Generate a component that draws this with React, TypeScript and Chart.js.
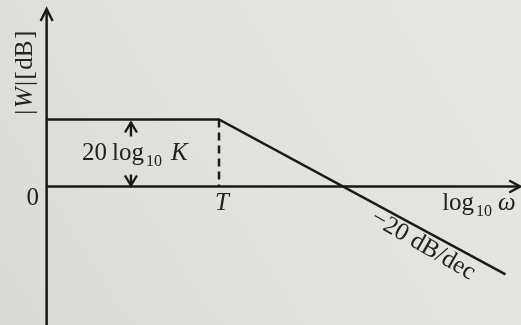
import React, { useEffect, useRef } from "react";
import { Chart, registerables } from "chart.js";

Chart.register(...registerables);

// Values in decades of log10(omega) and in dB
const X_MIN = -0.766;
const X_MAX = 3.435;
const Y_MIN = -41.34;
const Y_MAX = 55.67;

const AXIS_ORIGIN = -0.39; // where the |W| axis stands
const CORNER_T = 1; // log10 T
const GAIN_DB = 20; // 20 log10 K
const ARROW_LOGW = 0.29; // position of the 20 log10 K marker

const asymptoteLogW = [AXIS_ORIGIN, CORNER_T, 3.31];
const asymptoteDb = [GAIN_DB, GAIN_DB, -26.2];
const cornerLogW = [CORNER_T, CORNER_T];
const cornerDb = [GAIN_DB, 0];
const zeroAxisLogW = [AXIS_ORIGIN, 3.42];
const zeroAxisDb = [0, 0];
const yAxisLogW = [AXIS_ORIGIN, AXIS_ORIGIN];
const yAxisDb = [Y_MIN, 52.7];

const SLOPE_LABEL = "\u221220 dB/dec";
const SLOPE_LABEL_AT = [2.645, -17.6];

const INK = "#1a1a1a";
const TEXT = "#222222";
const SERIF = '"Liberation Serif"';

const pts = (xs: number[], ys: number[]) => xs.map((x, i) => ({ x, y: ys[i] }));

function arrowHead(ctx: CanvasRenderingContext2D, tx: number, ty: number, dx: number, dy: number, L: number, W: number) {
  const nx = -dy;
  const ny = dx;
  ctx.beginPath();
  ctx.moveTo(tx - L * dx + W * nx, ty - L * dy + W * ny);
  ctx.lineTo(tx, ty);
  ctx.lineTo(tx - L * dx - W * nx, ty - L * dy - W * ny);
  ctx.stroke();
}

function inkText(ctx: CanvasRenderingContext2D, t: string, x: number, y: number) {
  ctx.fillText(t, x, y);
}

const decorPlugin = {
  id: "decor",
  beforeDraw(chart: any) {
    const { ctx, width, height } = chart;
    ctx.save();
    const g = ctx.createLinearGradient(0, height, width, 0);
    g.addColorStop(0, "#dadad7");
    g.addColorStop(0.45, "#e1e1de");
    g.addColorStop(1, "#e6e6e3");
    ctx.fillStyle = g;
    ctx.fillRect(0, 0, width, height);
    ctx.restore();
  },
  afterDraw(chart: any) {
    const { ctx } = chart;
    const xs = chart.scales.x;
    const ys = chart.scales.y;
    const X = (v: number) => xs.getPixelForValue(v);
    const Y = (v: number) => ys.getPixelForValue(v);
    ctx.save();
    ctx.strokeStyle = INK;
    ctx.lineWidth = 2.4;
    ctx.lineJoin = "miter";
    ctx.lineCap = "butt";

    // axis arrowheads
    arrowHead(ctx, X(yAxisLogW[1]), Y(yAxisDb[1]) - 1, 0, -1, 12, 6);
    arrowHead(ctx, X(zeroAxisLogW[1]) + 1, Y(zeroAxisDb[1]), 1, 0, 11, 6);

    // 20 log10 K double arrow
    const ax = X(ARROW_LOGW);
    const yTop = Y(GAIN_DB);
    const yBot = Y(0);
    ctx.beginPath();
    ctx.moveTo(ax, yTop + 3);
    ctx.lineTo(ax, yTop + 17);
    ctx.moveTo(ax, yBot - 1);
    ctx.lineTo(ax, yBot - 12);
    ctx.stroke();
    arrowHead(ctx, ax, yTop + 3, 0, -1, 10, 6);
    arrowHead(ctx, ax, yBot - 1, 0, 1, 10, 6);

    ctx.fillStyle = TEXT;
    ctx.textBaseline = "alphabetic";
    ctx.textAlign = "left";
    const big = `25px ${SERIF}`;
    const bigIt = `italic 25px ${SERIF}`;
    const sub = `16px ${SERIF}`;

    // 20 log10 K
    const tb = yTop + 40;
    let x0 = ax - 49;
    ctx.font = big;
    inkText(ctx, "20", x0, tb);
    x0 += ctx.measureText("20").width + 5;
    inkText(ctx, "log", x0, tb);
    x0 += ctx.measureText("log").width + 2;
    ctx.font = sub;
    inkText(ctx, "10", x0, tb + 6);
    x0 += ctx.measureText("10").width + 9;
    ctx.font = bigIt;
    inkText(ctx, "K", x0, tb);

    // 0 label
    ctx.font = big;
    ctx.textAlign = "center";
    inkText(ctx, "0", X(AXIS_ORIGIN) - 14, Y(0) + 18);

    // T label
    ctx.font = bigIt;
    inkText(ctx, "T", X(CORNER_T) + 3, Y(0) + 23);

    // log10 omega
    ctx.textAlign = "left";
    let lx = X(zeroAxisLogW[1]) - 77;
    const lb = Y(0) + 23;
    ctx.font = big;
    inkText(ctx, "log", lx, lb);
    lx += ctx.measureText("log").width + 2;
    ctx.font = sub;
    inkText(ctx, "10", lx, lb + 6);
    lx += ctx.measureText("10").width + 6;
    ctx.font = bigIt;
    inkText(ctx, "\u03c9", lx, lb);

    // slope label
    ctx.save();
    ctx.translate(X(SLOPE_LABEL_AT[0]), Y(SLOPE_LABEL_AT[1]));
    ctx.rotate((30 * Math.PI) / 180);
    ctx.font = big;
    ctx.textAlign = "center";
    ctx.textBaseline = "middle";
    inkText(ctx, SLOPE_LABEL, 0, 0);
    ctx.restore();

    // y-axis label |W|[dB]
    ctx.save();
    ctx.translate(X(AXIS_ORIGIN) - 15, 72);
    ctx.rotate(-Math.PI / 2);
    ctx.textBaseline = "alphabetic";
    ctx.textAlign = "left";
    const parts: [string, string][] = [
      ["|", big],
      ["W", bigIt],
      ["|", big],
      ["[", big],
      ["dB", big],
      ["]", big],
    ];
    const gap = 1.5;
    let total = 0;
    for (const [t, f] of parts) {
      ctx.font = f;
      total += ctx.measureText(t).width + gap;
    }
    let px = -total / 2;
    for (const [t, f] of parts) {
      ctx.font = f;
      inkText(ctx, t, px, 0);
      px += ctx.measureText(t).width + gap;
    }
    ctx.restore();

    ctx.restore();
  },
};

export default function App() {
  const ref = useRef<HTMLCanvasElement | null>(null);
  useEffect(() => {
    document.body.style.margin = "0";
    if (!ref.current) return;
    const line = (data: { x: number; y: number }[], dash: number[] = []) => ({
      data,
      showLine: true,
      borderColor: INK,
      borderWidth: 2.5,
      borderDash: dash,
      pointRadius: 0,
      fill: false,
      tension: 0,
    });
    const chart = new Chart(ref.current, {
      type: "scatter",
      data: {
        datasets: [
          line(pts(yAxisLogW, yAxisDb)),
          line(pts(zeroAxisLogW, zeroAxisDb)),
          line(pts(asymptoteLogW, asymptoteDb)),
          line(pts(cornerLogW, cornerDb), [8, 5]),
        ] as any,
      },
      options: {
        responsive: false,
        animation: false,
        devicePixelRatio: 1,
        layout: { padding: 0 },
        plugins: { legend: { display: false }, tooltip: { enabled: false } },
        scales: {
          x: { type: "linear", min: X_MIN, max: X_MAX, display: false },
          y: { type: "linear", min: Y_MIN, max: Y_MAX, display: false },
        },
      },
      plugins: [decorPlugin],
    });
    return () => chart.destroy();
  }, []);
  return (
    <div style={{ width: 521, height: 325 }}>
      <canvas ref={ref} width={521} height={325} style={{ display: "block" }} />
    </div>
  );
}
